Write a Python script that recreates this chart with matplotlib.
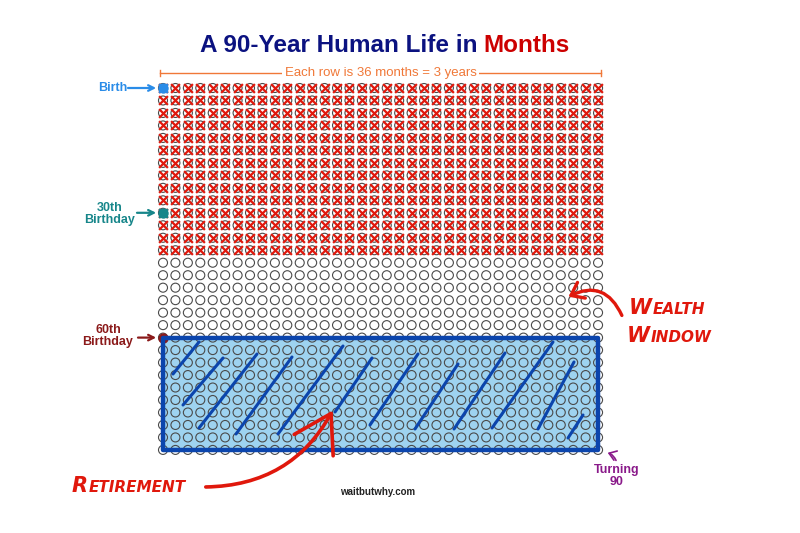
import matplotlib
matplotlib.use("Agg")
import matplotlib.pyplot as plt
import matplotlib.patches as mpatches
import numpy as np

plt.rcParams["font.family"] = ["Liberation Sans", "DejaVu Sans"]

# ── data ──────────────────────────────────────────────
N_COLS = 36           # months per row
N_ROWS = 30           # 90 years / 3
MONTHS_LIVED = 504    # 14 rows crossed out (42 years)
RETIRE_ROW = 20       # 60th birthday
MILESTONES = [        # (month index, label, colour)
    (0,   "Birth",          "#2a8ce8"),
    (360, "30th\nBirthday", "#17868a"),
    (720, "60th\nBirthday", "#8b1a1a"),
]

# brush strokes inside retirement box (pixel coords, tail -> tip)
STROKES = [
    ((173, 374), (199, 342)), ((183, 405), (223, 358)),
    ((199, 428), (257, 354)), ((236, 434), (292, 357)),
    ((278, 434), (343, 346)), ((335, 412), (372, 358)),
    ((370, 425), (418, 354)), ((415, 429), (458, 364)),
    ((454, 429), (505, 353)), ((492, 428), (553, 342)),
    ((538, 429), (574, 362)), ((568, 438), (583, 415)),
]

RED = "#e0180c"
NAVY = "#0b1280"
ORANGE = "#f07838"
BOX_FILL = "#9ed3f0"
BOX_EDGE = "#0b45ad"

# pixel -> data helper (data: x = column, y = row)
X0, DX = 163, 12.43
Y0, DY = 88, 12.48
def px(x, y):
    return ((x - X0) / DX, (y - Y0) / DY)

fig = plt.figure(figsize=(8, 5.33), dpi=100)
ax = fig.add_axes([0, 0, 1, 1])
ax.axis("off")
ax.set_xlim(px(0, 0)[0], px(800, 0)[0])
ax.set_ylim(px(0, 533)[1], px(0, 0)[1])

months = np.arange(N_COLS * N_ROWS)
cols = months % N_COLS
rows = months // N_COLS

# retirement box fill
box_w = N_COLS - 1
box_h = N_ROWS - 1 - RETIRE_ROW
ax.add_patch(mpatches.Rectangle((0, RETIRE_ROW), box_w, box_h,
                                facecolor=BOX_FILL, edgecolor="none", zorder=1))

# circles
ax.scatter(cols, rows, s=42, facecolors="none", edgecolors="#4a4a4a",
           linewidths=0.8, zorder=2)

# crosses for months lived
lived = months < MONTHS_LIVED
ax.scatter(cols[lived], rows[lived], s=40, marker="x", c=RED,
           linewidths=1.6, zorder=3)

# milestone cells
for m, label, color in MILESTONES:
    c, r = m % N_COLS, m // N_COLS
    ax.scatter([c], [r], s=42, c=color, edgecolors=color, zorder=4)
    if m < MONTHS_LIVED:
        ax.scatter([c], [r], s=40, marker="x", c=color, linewidths=1.6, zorder=5)

# box edge
ax.add_patch(mpatches.Rectangle((0, RETIRE_ROW), box_w, box_h,
                                facecolor="none", edgecolor=BOX_EDGE,
                                linewidth=3.2, joinstyle="round", zorder=6))

for (x1, y1), (x2, y2) in STROKES:
    a, b = px(x1, y1), px(x2, y2)
    ax.plot([a[0], b[0]], [a[1], b[1]], color=BOX_EDGE, lw=2.2,
            solid_capstyle="round", zorder=6)

# milestone labels
label_pos = {0: (113, 88, 128), 360: (110, 214, 137), 720: (108, 336, 138)}
for m, label, color in MILESTONES:
    tx, ty, ax0 = label_pos[m]
    r = m // N_COLS
    ax.text(*px(tx, ty), label, ha="center", va="center", fontsize=9,
            fontweight="bold", color=color, linespacing=1.1)
    ax.annotate("", xy=(-0.55, r), xytext=(px(ax0, 0)[0], r),
                arrowprops=dict(arrowstyle="->", color=color, lw=1.6,
                                shrinkA=0, shrinkB=0))

# title
ax.text(*px(477, 45), "A 90-Year Human Life in", ha="right", va="center",
        fontsize=17.5, fontweight="bold", color=NAVY)
ax.text(*px(483, 45), "Months", ha="left", va="center",
        fontsize=17.5, fontweight="bold", color="#cc0000")

# bracket
yb = px(0, 73)[1]
ax.plot([-0.25, N_COLS - 0.75], [yb, yb], color=ORANGE, lw=1)
for xe in (-0.25, N_COLS - 0.75):
    ax.plot([xe, xe], [yb - 0.25, yb + 0.25], color=ORANGE, lw=1)
ax.text((N_COLS - 1) / 2, yb, "Each row is 36 months = 3 years", ha="center",
        va="center", fontsize=9.5, color=ORANGE,
        bbox=dict(facecolor="white", edgecolor="none", pad=1.5))


def small_caps(x, y, word, big, small, color):
    first = ax.text(*px(x, y), word[0], ha="left", va="baseline",
                    fontsize=big, fontweight="bold", fontstyle="italic",
                    color=color, family="DejaVu Sans")
    ax.annotate(word[1:], xy=(1.02, 0.2), xycoords=first, ha="left",
                va="baseline", fontsize=small, fontweight="bold",
                fontstyle="italic", color=color, family="DejaVu Sans")


small_caps(629, 314, "WEALTH", 15, 11, RED)
small_caps(627, 342, "WINDOW", 15, 11, RED)
small_caps(72, 492, "RETIREMENT", 15, 11, RED)

# hand-drawn arrows
ax.add_patch(mpatches.FancyArrowPatch(
    px(623, 318), px(566, 298), connectionstyle="arc3,rad=0.55",
    arrowstyle="->,head_length=0.6,head_width=0.45", mutation_scale=14,
    color=RED, lw=2.4, zorder=7))
ax.add_patch(mpatches.FancyArrowPatch(
    px(203, 487), px(334, 408), connectionstyle="arc3,rad=0.3",
    arrowstyle="->,head_length=1.3,head_width=0.8", mutation_scale=20,
    color=RED, lw=2.6, zorder=7))
ax.add_patch(mpatches.FancyArrowPatch(
    px(617, 463), px(605, 452), connectionstyle="arc3,rad=0.3",
    arrowstyle="->,head_length=0.5,head_width=0.35", mutation_scale=10,
    color="#8a1a8a", lw=1.2, zorder=7))

ax.text(*px(617, 476), "Turning\n90", ha="center", va="center", fontsize=9,
        fontweight="bold", color="#8a1a8a", linespacing=1.1)
ax.text(*px(378, 492), "waitbutwhy.com", ha="center", va="center",
        fontsize=7, fontweight="bold", color="#222222")

fig.savefig("out.png", dpi=100)
